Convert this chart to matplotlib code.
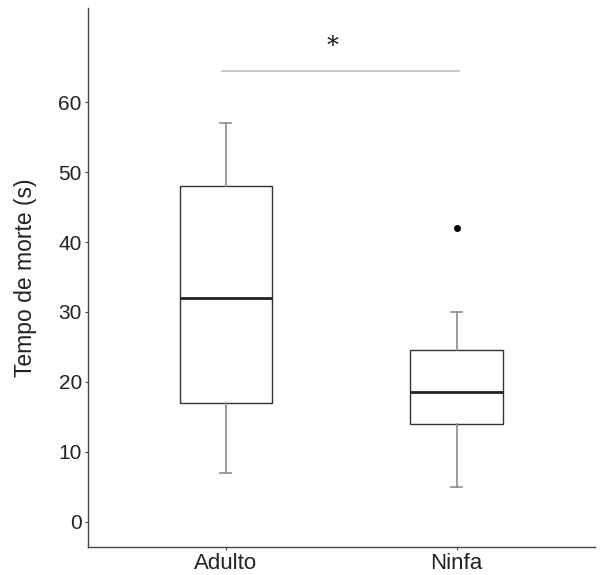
import matplotlib
matplotlib.use("Agg")
import matplotlib.pyplot as plt

plt.rcParams['font.family'] = ['Liberation Sans', 'DejaVu Sans']

# dados
grupos = ["Adulto", "Ninfa"]
wh_baixo = [7, 5]
q1 = [17, 14]
mediana = [32, 18.5]
q3 = [48, 24.5]
wh_alto = [57, 30]
outliers = [[], [42]]

sig_y = 64.5
sig_txt = "*"

stats = []
for i, g in enumerate(grupos):
    stats.append({"label": g, "whislo": wh_baixo[i], "q1": q1[i], "med": mediana[i],
                  "q3": q3[i], "whishi": wh_alto[i], "fliers": outliers[i]})

fig = plt.figure(figsize=(6, 5.75), dpi=100)
ax = fig.add_axes([0.1467, 0.0492, 0.845, 0.937])

ax.bxp(stats, positions=[1, 2], widths=0.4, capwidths=0.048, patch_artist=True,
       boxprops=dict(facecolor="white", edgecolor="#333333", linewidth=1.0),
       medianprops=dict(color="#222222", linewidth=2.0),
       whiskerprops=dict(color="#8c8c8c", linewidth=1.2),
       capprops=dict(color="#8c8c8c", linewidth=1.2),
       flierprops=dict(marker="o", markerfacecolor="black", markeredgecolor="black",
                       markersize=4))

# linha de significancia
ax.plot([0.985, 2.01], [sig_y, sig_y], color="#bdbdbd", linewidth=1.2)
ax.text(1.46, 68.0, sig_txt, ha="center", va="center", fontsize=17,
        family="DejaVu Serif", color="#111111")

ax.set_xlim(0.402, 2.6)
ax.set_ylim(-3.6, 73.5)
ax.set_yticks(range(0, 61, 10))
ax.set_xticks([1, 2])
ax.set_xticklabels(grupos)

for s in ["top", "right"]:
    ax.spines[s].set_visible(False)
for s in ["left", "bottom"]:
    ax.spines[s].set_color("#444444")
    ax.spines[s].set_linewidth(1.0)

ax.tick_params(axis="y", labelsize=15, colors="#222222", length=2.5, width=0.8, pad=2)
ax.tick_params(axis="x", labelsize=16, colors="#222222", length=2.5, width=0.8, pad=2)
ax.tick_params(axis="both", color="#444444")
ax.set_ylabel("Tempo de morte (s)", fontsize=16.5, color="#222222")
ax.yaxis.set_label_coords(-0.1005, 0.5)

fig.savefig("out.png", dpi=100)
